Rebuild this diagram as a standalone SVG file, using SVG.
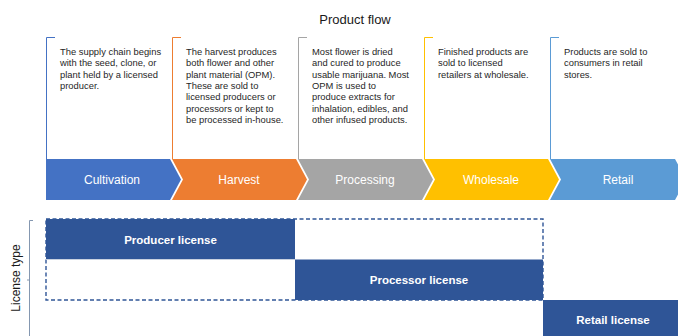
<svg xmlns="http://www.w3.org/2000/svg" width="678" height="336" viewBox="0 0 678 336">
<style>
.desc{font-family:"Liberation Sans",Arial,sans-serif;font-size:9.4px;fill:#1f1f1f}
.lbl{font-family:"Liberation Sans",Arial,sans-serif;font-size:12px;fill:#ffffff;text-anchor:middle}
.lic{font-family:"Liberation Sans",Arial,sans-serif;font-size:11.5px;font-weight:bold;fill:#ffffff;text-anchor:middle}
.title{font-family:"Liberation Sans",Arial,sans-serif;font-size:13px;fill:#1a1a1a;text-anchor:middle}
.brk{fill:none;stroke-width:1}
.licbox{fill:#2F5597}
</style>
<rect width="678" height="336" fill="#ffffff"/>
<text class="title" x="355" y="24">Product flow</text>

<g id="cultivation">
<path class="brk" stroke="#4472C4" d="M55,37.5H46.5V159"/>
<polygon fill="#4472C4" points="46,159 170,159 181,179.5 170,200 46,200"/>
<text class="lbl" x="112" y="184">Cultivation</text>
<text class="desc"><tspan x="60" y="55">The supply chain begins</tspan><tspan x="60" y="66.3">with the seed, clone, or</tspan><tspan x="60" y="77.6">plant held by a licensed</tspan><tspan x="60" y="88.9">producer.</tspan></text>
</g>

<g id="harvest">
<path class="brk" stroke="#ED7D31" d="M181,37.5H172.5V159"/>
<polygon fill="#ED7D31" points="172,159 296,159 307,179.5 296,200 172,200 183,179.5"/>
<text class="lbl" x="239" y="184">Harvest</text>
<text class="desc"><tspan x="186" y="55">The harvest produces</tspan><tspan x="186" y="66.3">both flower and other</tspan><tspan x="186" y="77.6">plant material (OPM).</tspan><tspan x="186" y="88.9">These are sold to</tspan><tspan x="186" y="100.2">licensed producers or</tspan><tspan x="186" y="111.5">processors or kept to</tspan><tspan x="186" y="122.8">be processed in-house.</tspan></text>
</g>

<g id="processing">
<path class="brk" stroke="#A5A5A5" d="M307,37.5H298.5V159"/>
<polygon fill="#A5A5A5" points="298,159 422,159 433,179.5 422,200 298,200 309,179.5"/>
<text class="lbl" x="365" y="184">Processing</text>
<text class="desc"><tspan x="312" y="55">Most flower is dried</tspan><tspan x="312" y="66.3">and cured to produce</tspan><tspan x="312" y="77.6">usable marijuana. Most</tspan><tspan x="312" y="88.9">OPM is used to</tspan><tspan x="312" y="100.2">produce extracts for</tspan><tspan x="312" y="111.5">inhalation, edibles, and</tspan><tspan x="312" y="122.8">other infused products.</tspan></text>
</g>

<g id="wholesale">
<path class="brk" stroke="#FFC000" d="M433,37.5H424.5V159"/>
<polygon fill="#FFC000" points="424,159 548,159 559,179.5 548,200 424,200 435,179.5"/>
<text class="lbl" x="491" y="184">Wholesale</text>
<text class="desc"><tspan x="438" y="55">Finished products are</tspan><tspan x="438" y="66.3">sold to licensed</tspan><tspan x="438" y="77.6">retailers at wholesale.</tspan></text>
</g>

<g id="retail">
<path class="brk" stroke="#5B9BD5" d="M559,37.5H550.5V159"/>
<polygon fill="#5B9BD5" points="550,159 675,159 686,179.5 675,200 550,200 561,179.5"/>
<text class="lbl" x="618" y="184">Retail</text>
<text class="desc"><tspan x="564" y="55">Products are sold to</tspan><tspan x="564" y="66.3">consumers in retail</tspan><tspan x="564" y="77.6">stores.</tspan></text>
</g>

<g id="axis">
<path fill="none" stroke="#8497B0" stroke-width="1" d="M33,220.5H29.5V336M27,280H29.5"/>
<text font-family="Liberation Sans,Arial,sans-serif" font-size="12" fill="#1a1a1a" text-anchor="middle" transform="translate(20,278) rotate(-90)">License type</text>
</g>

<g id="producer-license">
<rect class="licbox" x="46" y="219" width="249" height="40.5"/>
<text class="lic" x="170.5" y="243.5">Producer license</text>
</g>
<g id="processor-license">
<rect class="licbox" x="295" y="259.5" width="248" height="40.5"/>
<text class="lic" x="419" y="284">Processor license</text>
</g>
<g id="retail-license">
<rect class="licbox" x="543" y="300" width="140" height="40"/>
<text class="lic" x="613" y="324">Retail license</text>
</g>
<g id="connectors">
<rect x="46" y="219" width="497" height="81" fill="none" stroke="#2F5597" stroke-width="1.4" stroke-dasharray="4,2.5"/>
<line x1="46" y1="259.5" x2="295" y2="259.5" stroke="#D6DCE5" stroke-width="0.8"/>
</g>
</svg>
